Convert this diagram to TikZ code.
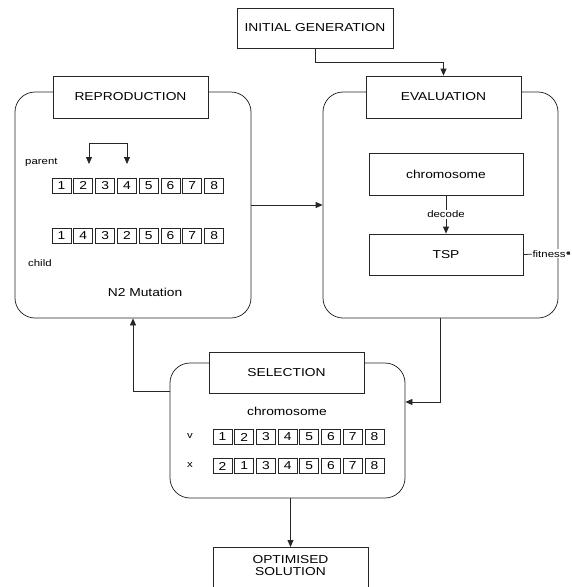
\documentclass[tikz,border=0pt]{standalone}
\usepackage{fontspec}
\setmainfont[FakeStretch=1.2]{Liberation Sans}
\usetikzlibrary{arrows.meta}
\begin{document}
\begin{tikzpicture}[x=1pt,y=-1pt,
  every node/.style={font=\fontsize{11.5}{12}\selectfont},
  ln/.style={draw=black!85, line width=0.75pt},
  tip/.style={Triangle[length=7pt,width=6pt]},
  arr/.style={ln, -{Triangle[length=7pt,width=6pt]}},
  rbox/.style={ln, rounded corners=20pt, inner sep=0pt},
  labbox/.style={ln, fill=white, minimum width=155pt, minimum height=42pt, inner sep=0pt},
  plainbox/.style={ln, minimum width=154pt, minimum height=42pt, inner sep=0pt},
  cell/.style={ln, minimum width=19pt, minimum height=15pt, inner sep=0pt},
  small/.style={font=\fontsize{9.5}{10}\selectfont, inner sep=1pt}
]
\useasboundingbox (0,0) rectangle (571,587);
\clip (0,0) rectangle (571,587);

% main rounded boxes
\node[rbox, minimum width=236pt, minimum height=226pt] (repbox) at (133,205) {};
\node[rbox, minimum width=235pt, minimum height=226pt] (evalbox) at (440.5,205) {};
\node[rbox, minimum width=235pt, minimum height=135pt] (selbox) at (287.5,430.5) {};

% label boxes
\node[labbox] (replabel) at (130.5,97) {REPRODUCTION};
\node[labbox] (evallabel) at (443.5,97) {EVALUATION};
\node[labbox, minimum height=41pt] (sellabel) at (286.5,372.5) {SELECTION};
\node[labbox, minimum width=156pt, minimum height=40pt] (init) at (315,28) {INITIAL GENERATION};
\node[ln, anchor=north, minimum width=155pt, inner xsep=0pt, inner ysep=8pt, align=center, text depth=40pt] (opt) at (290.5,547) {OPTIMISED\\SOLUTION};

% evaluation content
\node[plainbox] (chromo) at (446,174) {chromosome};
\node[plainbox, minimum height=41pt] (tsp) at (446,254.5) {TSP};
\coordinate (fitend) at (570,253);

% reproduction content
\node[small, anchor=west] (parent) at (24,162) {parent};
\node[small, anchor=west] (child) at (27,263) {child};
\node (mut) at (145,292) {N2 Mutation};
\foreach \d [count=\i] in {1,2,3,4,5,6,7,8}
  \node[cell] (p\i) at ({61.5+(\i-1)*21.8},185.5) {\d};
\foreach \d [count=\i] in {1,4,3,2,5,6,7,8}
  \node[cell] (c\i) at ({61.5+(\i-1)*21.8},235.5) {\d};
\coordinate (swA) at (89,164);
\coordinate (swB) at (127,164);

% selection content
\node (selchromo) at (287,411) {chromosome};
\node[small] (vlab) at (190,436) {v};
\node[small] (xlab) at (190,465) {x};
\foreach \d [count=\i] in {1,2,3,4,5,6,7,8}
  \node[cell] (v\i) at ({222.5+(\i-1)*21.7},437) {\d};
\foreach \d [count=\i] in {2,1,3,4,5,6,7,8}
  \node[cell] (x\i) at ({222.5+(\i-1)*21.7},466) {\d};

% connectors
\draw[arr] (init.south) -- ++(0,14) -| (evallabel.north);
\draw[arr] (repbox.east) -- (evalbox.west);
\draw[arr] (chromo.south) -- node[small, fill=white] {decode} (tsp.north);
\draw[ln, -{Square[length=3pt,width=3pt]}] (tsp.east) -- node[small, fill=white, pos=0.55] {fitness} (fitend);
\draw[arr] (evalbox.south) |- ([yshift=28.5pt]selbox.east);
\draw[arr] ([yshift=39.5pt]selbox.west) -| (repbox.south);
\draw[arr] (opt.north |- selbox.south) -- (opt.north);
\draw[ln, {Triangle[length=7pt,width=6pt]}-{Triangle[length=7pt,width=6pt]}] (swA) -- (89,143) -- (127,143) -- (swB);
\end{tikzpicture}
\end{document}
